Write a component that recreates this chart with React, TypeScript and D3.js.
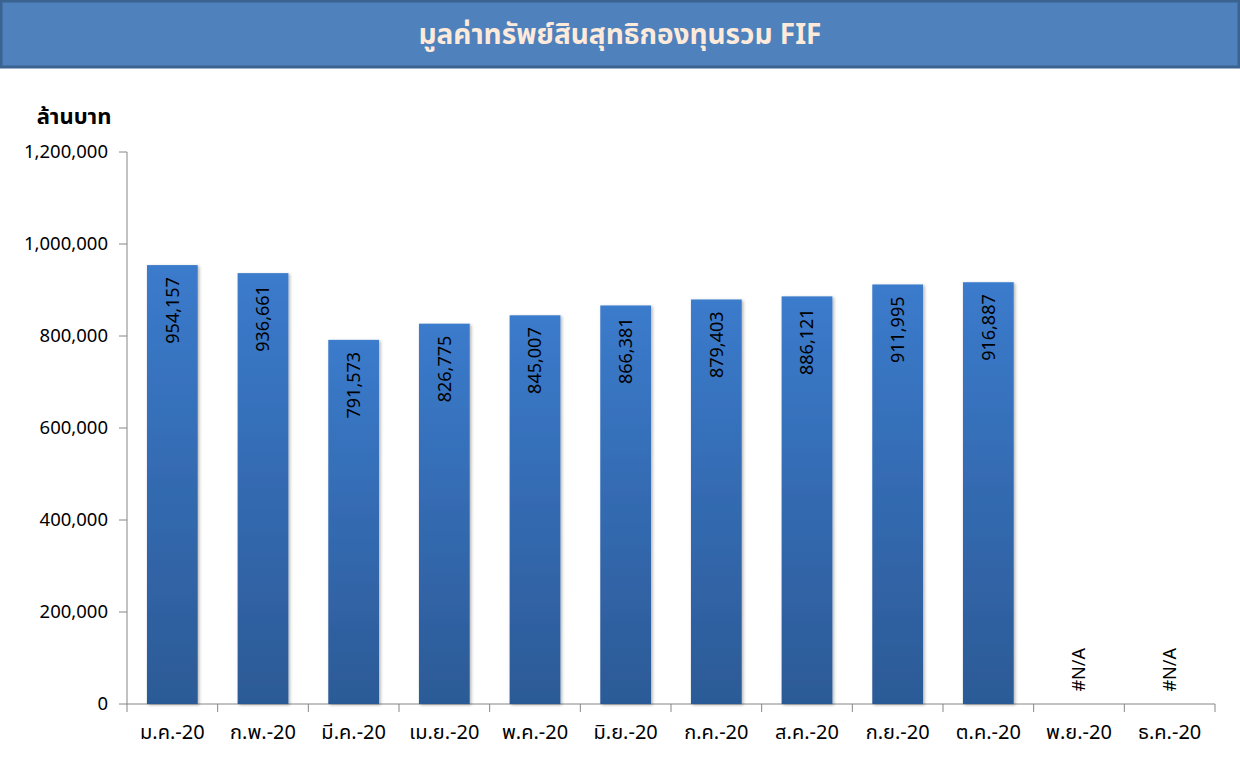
import React from "react";
import * as d3 from "d3";

const title = "มูลค่าทรัพย์สินสุทธิกองทุนรวม FIF";
const unitLabel = "ล้านบาท";
const months = ["ม.ค.-20","ก.พ.-20","มี.ค.-20","เม.ย.-20","พ.ค.-20","มิ.ย.-20","ก.ค.-20","ส.ค.-20","ก.ย.-20","ต.ค.-20","พ.ย.-20","ธ.ค.-20"];
const values: (number | null)[] = [954157, 936661, 791573, 826775, 845007, 866381, 879403, 886121, 911995, 916887, null, null];
const yTicks = [0, 200000, 400000, 600000, 800000, 1000000, 1200000];

const W = 1240, H = 757;
const FONT = "'Noto Sans Thai', Tahoma, 'Noto Sans', 'DejaVu Sans', sans-serif";

export default function App() {
  const left = 127, right = 1215, top = 152, bottom = 704;
  const x = d3.scaleBand<string>().domain(months).range([left, right]).paddingInner(0.44).paddingOuter(0.22);
  const xb = d3.scaleBand<string>().domain(months).range([left, right]);
  const y = d3.scaleLinear().domain([0, 1200000]).range([bottom, top]);
  const fmt = d3.format(",");
  return (
    <div style={{ position: "fixed", left: 0, top: 0, width: W, height: H, background: "#fff" }}>
      <svg width={W} height={H} style={{ display: "block" }}>
        <defs>
          <linearGradient id="barGrad" x1="0" y1="0" x2="0" y2="1">
            <stop offset="0" stopColor="#3B7BCC" />
            <stop offset="1" stopColor="#2C5A96" />
          </linearGradient>
          <filter id="shadow" x="-20%" y="-5%" width="140%" height="110%">
            <feDropShadow dx="1.5" dy="1" stdDeviation="1.5" floodColor="#000" floodOpacity="0.3" />
          </filter>
        </defs>
        <rect x={1} y={1} width={W - 2} height={66} fill="#4F81BD" stroke="#3B6391" strokeWidth={3} />
        <text x={620} y={44} textAnchor="middle" fontFamily={FONT} fontWeight="bold" fontSize={28} fill="#FDEADA">{title}</text>
        <text x={74} y={124} textAnchor="middle" fontFamily={FONT} fontWeight="bold" fontSize={22} fill="#000">{unitLabel}</text>
        {/* y axis */}
        <line x1={left} x2={left} y1={top} y2={bottom} stroke="#868686" strokeWidth={1} />
        {yTicks.map(t => (
          <g key={t}>
            <line x1={left - 8} x2={left} y1={y(t)} y2={y(t)} stroke="#868686" />
            <text x={left - 19} y={y(t)} dy="0.35em" textAnchor="end" fontFamily={FONT} fontSize={18.5} fill="#000">{fmt(t)}</text>
          </g>
        ))}
        {/* x axis */}
        <line x1={left} x2={right} y1={bottom} y2={bottom} stroke="#868686" />
        {months.map((m, i) => (
          <line key={"t" + i} x1={xb(m)! + xb.bandwidth()} x2={xb(m)! + xb.bandwidth()} y1={bottom} y2={bottom + 8} stroke="#868686" />
        ))}
        <line x1={left} x2={left} y1={bottom} y2={bottom + 8} stroke="#868686" />
        {months.map(m => (
          <text key={"l" + m} x={xb(m)! + xb.bandwidth() / 2} y={739} textAnchor="middle" fontFamily={FONT} fontSize={20} fill="#000">{m}</text>
        ))}
        {/* bars */}
        {months.map((m, i) => {
          const v = values[i];
          const cx = x(m)! + x.bandwidth() / 2;
          if (v == null) {
            return (
              <text key={"b" + m} transform={`translate(${cx},${648}) rotate(-90)`} textAnchor="end" dy="0.35em" fontFamily={FONT} fontSize={18} fill="#000">#N/A</text>
            );
          }
          return (
            <g key={"b" + m}>
              <rect x={x(m)!} y={y(v)} width={x.bandwidth()} height={bottom - y(v)} fill="url(#barGrad)" filter="url(#shadow)" />
              <text transform={`translate(${cx},${y(v) + 12}) rotate(-90)`} textAnchor="end" dy="0.35em" fontFamily={FONT} fontSize={18} fill="#000">{fmt(v)}</text>
            </g>
          );
        })}
      </svg>
    </div>
  );
}
